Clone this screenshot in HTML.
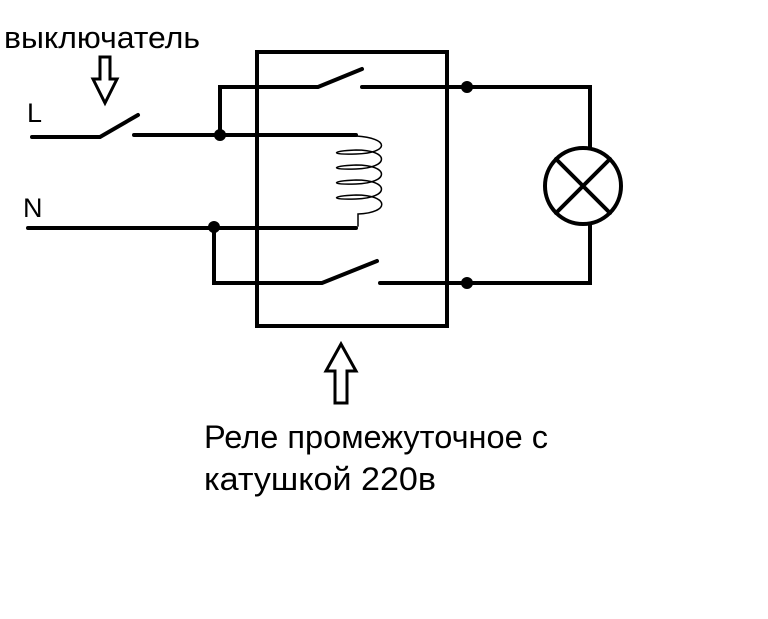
<!DOCTYPE html>
<html><head><meta charset="utf-8"><style>
body{margin:0;background:#fff;width:768px;height:614px;overflow:hidden}
text{font-family:"Liberation Sans","DejaVu Sans",sans-serif;fill:#000}
</style></head><body>
<svg width="768" height="614" viewBox="0 0 768 614" stroke="#000" fill="none" stroke-linecap="round">
<text x="4" y="48" font-size="31" stroke="none" textLength="196" lengthAdjust="spacingAndGlyphs">выключатель</text>
<text x="27" y="122" font-size="27" stroke="none">L</text>
<text x="23" y="217" font-size="27" stroke="none">N</text>
<text x="204" y="448" font-size="32" stroke="none" textLength="344" lengthAdjust="spacingAndGlyphs">Реле промежуточное с</text>
<text x="204" y="490" font-size="32" stroke="none" textLength="232" lengthAdjust="spacingAndGlyphs">катушкой 220в</text>
<rect x="257" y="52" width="190" height="274" stroke-width="4"/>
<g stroke-width="4">
<path d="M32 137H100L138 115"/>
<path d="M134 135H356"/>
<path d="M220 135V87H318L362 69"/>
<path d="M362 87H590V283H380"/>
<path d="M28 228H356"/>
<path d="M214 228V283H322L377 261"/>
</g>
<circle cx="220" cy="135" r="6" fill="#000" stroke="none"/>
<circle cx="214" cy="227" r="6" fill="#000" stroke="none"/>
<circle cx="467" cy="87" r="6" fill="#000" stroke="none"/>
<circle cx="467" cy="283" r="6" fill="#000" stroke="none"/>
<circle cx="583" cy="186" r="38" fill="#fff" stroke-width="4"/>
<path d="M556 159L610 213M610 159L556 213" stroke-width="4"/>
<g stroke-width="1.5">
<path d="M356 136C390 138 390 153 356 154C330 155 330 151 356 150C390 150 390 168 356 169C330 170 330 166 356 165C390 165 390 183 356 184C330 185 330 181 356 180C390 180 390 198 356 199C330 200 330 196 356 195C390 195 390 213 358 214V226"/>
</g>
<path d="M100 57H110V79H117L105 103L93 79H100Z" stroke-width="3" fill="#fff"/>
<path d="M335 403H347V371H356L341 344L326 371H335Z" stroke-width="3" fill="#fff"/>
</svg>
</body></html>
